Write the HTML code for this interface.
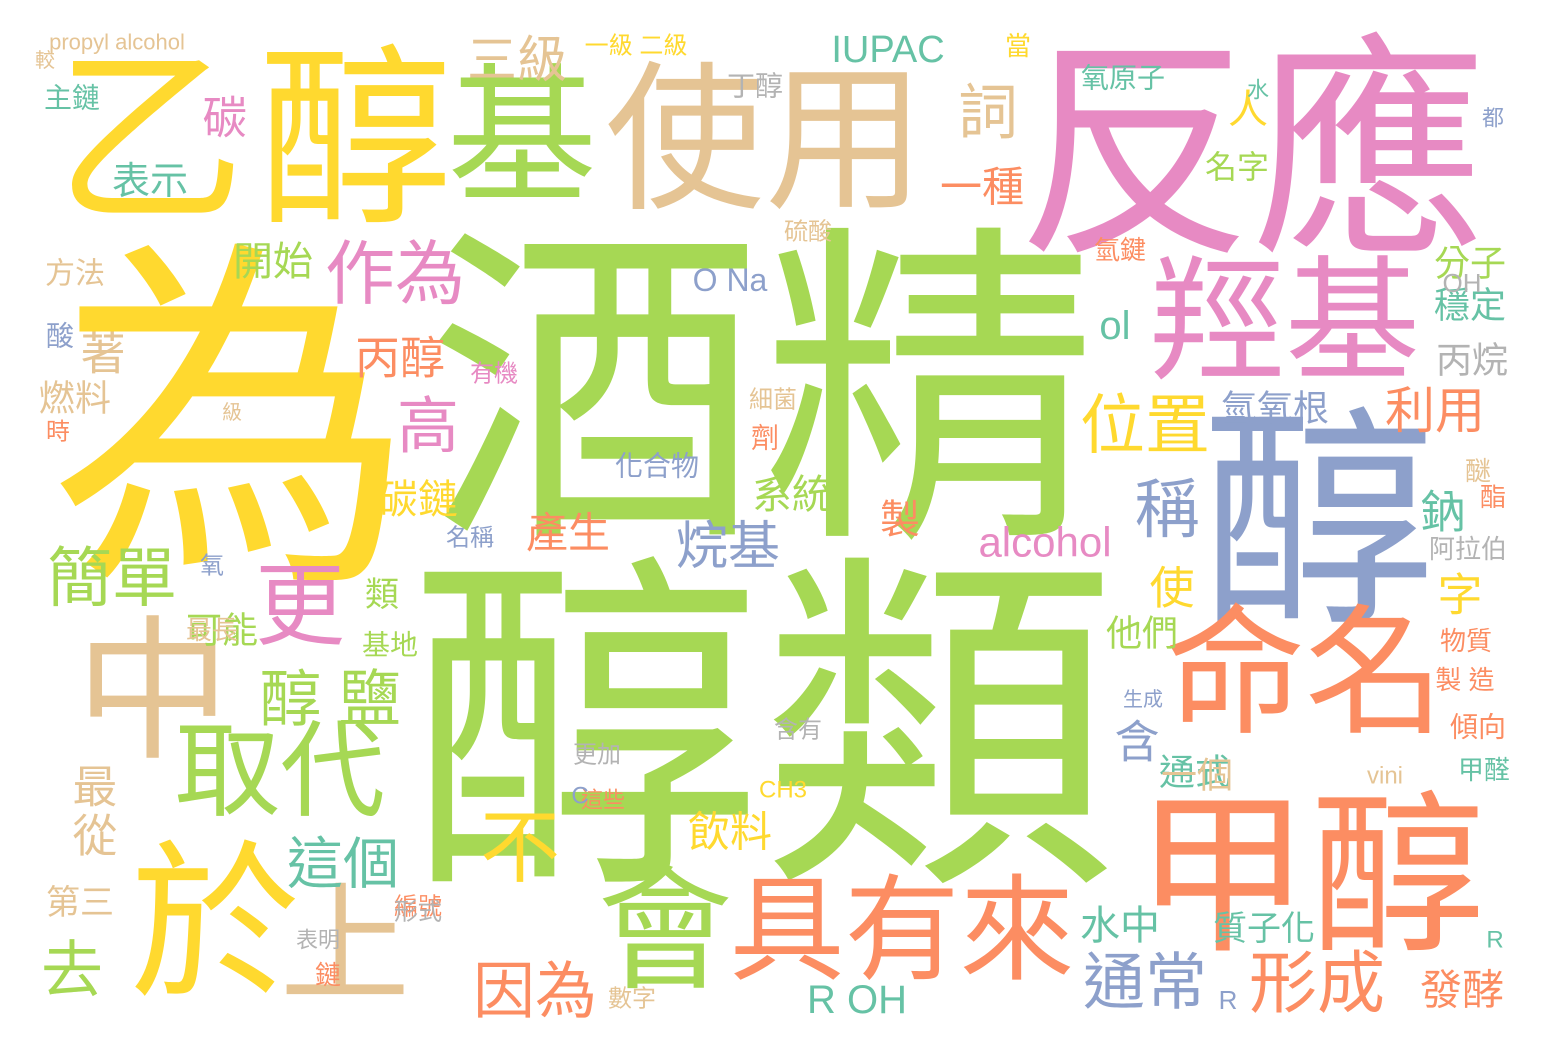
<!DOCTYPE html>
<html><head><meta charset="utf-8">
<style>
html,body{margin:0;padding:0;background:#fff;overflow:hidden;}
svg{display:block;}
text{font-family:"Liberation Sans","Noto Sans CJK TC",sans-serif;font-weight:400;}
</style></head>
<body>
<svg id="cloud" width="1548" height="1052" viewBox="0 0 1548 1052" xmlns="http://www.w3.org/2000/svg">
<rect width="1548" height="1052" fill="#ffffff"/>
<g id="words"></g>
</svg>
<script>
// word list, relative weights (font px), colour index, layout centre
var words = ["為","酒精","醇類","反應","醇","乙","醇","基","使用","羥基","命名","甲醇","中","於","上","會","具有來","取代","更","不","作為","位置","稱","烷基","alcohol","簡單","醇 鹽","這個","因為","去","通常","形成","R OH","水中","高","丙醇","三級","IUPAC","詞","一種","碳","表示","開始","著","O Na","ol","人","名字","分子","穩定","丙烷","利用","氫氧根","鈉","碳鏈","系統","產生","製","字","使","他們","飲料","含","通式","一個","發酵","最","從","第三","可能","類","基地","燃料","方法","propyl alcohol","主鏈","丁醇","一級 二級","氧原子","當","水","都","硫酸","氫鍵","有機","化合物","名稱","劑","醚","酯","阿拉伯","物質","製 造","傾向","甲醛","vini","生成","含有","更加","CH3","這些","數字","表明","編號","形式","鏈","質子化","R","酸","時","氧","最長","細菌","級","較","C","OH","R","名字"];
var sizes = [365,335,355,235,235,190,195,150,160,135,140,175,155,170,130,135,115,105,90,80,70,65,65,52,42,65,62,56,62,62,62,68,40,40,62,45,50,38,60,42,45,38,40,45,32,40,40,32,36,36,36,50,36,45,40,40,42,40,45,45,36,42,45,36,36,42,45,45,34,36,34,28,36,30,22,28,28,24,28,26,22,22,24,26,24,28,24,28,26,26,26,26,26,28,26,24,20,24,24,24,22,24,22,24,24,26,34,24,28,24,24,26,24,20,20,24,26,26,38,24];
var colorIdx = [1,0,0,2,3,1,1,0,5,2,4,4,5,1,5,0,4,0,2,1,2,1,3,3,2,0,0,6,4,0,3,4,6,6,2,4,5,6,5,4,2,6,0,5,3,6,1,0,0,6,7,4,3,6,1,0,4,4,1,1,0,1,3,6,5,4,5,5,5,0,0,0,5,5,5,6,7,1,6,1,6,3,5,4,2,3,3,4,5,4,7,4,4,4,6,5,3,7,7,1,4,5,7,4,7,4,6,6,3,4,3,5,5,5,5,3,7,3,6,0];
var xs = [232,762,762,1252,1318,150,355,522,765,1285,1305,1310,153,215,345,665,902,280,300,520,395,1145,1167,728,1045,112,330,343,535,72,1145,1317,857,1120,428,400,517,888,988,982,225,150,273,103,730,1115,1248,1237,1470,1470,1472,1435,1275,1443,418,792,568,900,1460,1172,1142,730,1137,1195,1197,1462,95,95,80,222,382,390,75,75,117,72,755,636,1123,1018,1258,1493,808,1120,494,657,470,765,1478,1493,1468,1466,1465,1478,1484,1385,1143,798,597,783,603,632,318,418,418,328,1264,1495,60,58,212,212,773,232,45,580,1462,1228];
var ys = [425,393,732,152,522,140,140,137,140,322,673,877,692,925,945,931,931,772,607,848,274,425,509,547,542,578,700,864,992,971,983,984,1000,926,427,358,60,50,113,187,118,182,262,354,280,326,110,167,263,305,360,411,408,512,500,495,533,520,595,588,633,832,742,772,775,990,787,836,903,630,595,645,398,274,42,98,86,46,78,46,90,118,232,250,374,466,538,438,471,497,549,641,680,727,770,776,700,730,755,790,800,999,940,907,912,975,929,940,336,432,566,630,400,413,61,796,283,1000,1455,167];
var palette = ["#a6d854","#ffd92f","#e78ac3","#8da0cb","#fc8d62","#e5c494","#66c2a5","#b3b3b3"];

var g = document.getElementById('words');
var NS = "http://www.w3.org/2000/svg";
for (var i = 0; i < words.length; i++) {
  var t = document.createElementNS(NS, 'text');
  t.setAttribute('x', xs[i]);
  t.setAttribute('y', ys[i]);
  t.setAttribute('font-size', sizes[i]);
  t.setAttribute('fill', palette[colorIdx[i]]);
  t.setAttribute('text-anchor', 'middle');
  t.setAttribute('dominant-baseline', 'central');
  t.textContent = words[i];
  
  
  g.appendChild(t);
}
</script>
</body></html>
